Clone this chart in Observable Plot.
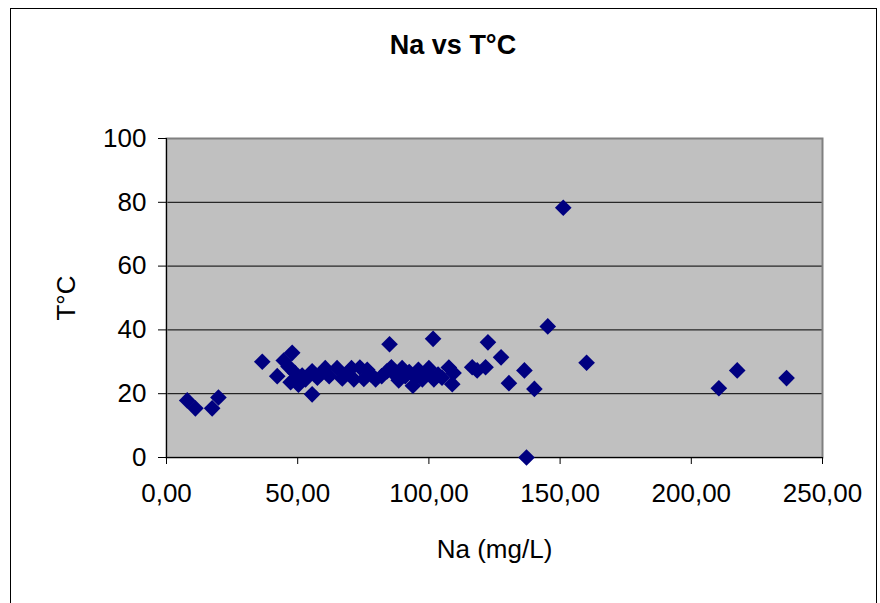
<!DOCTYPE html>
<html>
<head>
<meta charset="utf-8">
<script src="https://cdn.jsdelivr.net/npm/d3@7"></script>
<script src="https://cdn.jsdelivr.net/npm/@observablehq/plot@0.6"></script>
<style>
  html, body { margin: 0; padding: 0; background: #fff; }
  #wrap { position: relative; width: 880px; height: 603px; overflow: hidden; font-family: "Liberation Sans", Arial, sans-serif; }
  #border { position: absolute; left: 10px; top: 8px; width: 867px; height: 620px; border: 1px solid #000; box-sizing: border-box; }
  #title { position: absolute; left: 303px; width: 300px; top: 28px; text-align: center; font-weight: bold; font-size: 27px; color: #000; line-height: 34px; }
  #chart { position: absolute; left: 0; top: 0; }
</style>
</head>
<body>
<div id="wrap">
  <div id="border"></div>
  <div id="chart"></div>
  <div id="title">Na vs T°C</div>
</div>
<script>
const titleText = "Na vs T°C";
const xLabel = "Na (mg/L)";
const yLabel = "T°C";
const xTicks = [0, 50, 100, 150, 200, 250];
const yTicks = [0, 20, 40, 60, 80, 100];
const gridValues = [20, 40, 60, 80];

// Na (mg/L)
const na = [
  7.9, 11.0, 17.4, 19.8,
  36.5, 42.2, 44.7, 46.5, 47.3, 47.9, 49.0, 50.3, 51.7, 53.0, 55.5, 55.5, 57.5, 59.0, 60.5,
  62.0, 65.0, 67.0, 69.0, 70.5, 71.4, 73.7, 75.2, 76.5, 78.0, 79.7, 82.0, 84.0, 85.0, 85.7,
  87.0, 88.5, 89.8, 91.0, 92.5, 93.9, 95.0, 96.0, 97.5, 99.0, 100.0, 101.6, 101.9, 103.5,
  105.0, 107.6, 108.9, 109.4,
  116.5, 118.4, 121.6, 122.5, 127.5, 130.5, 136.4, 137.2, 140.2, 145.3, 151.2, 160.1,
  210.5, 217.5, 236.3
];
// T°C
const temp = [
  17.9, 15.4, 15.4, 18.8,
  30.0, 25.5, 30.4, 28.5, 23.6, 32.8, 26.5, 22.8, 25.7, 24.5, 27.0, 19.8, 25.0, 26.5, 28.0,
  25.5, 28.0, 24.8, 26.5, 28.0, 24.5, 28.2, 24.6, 27.5, 26.0, 24.5, 25.5, 27.0, 35.5, 28.3,
  26.0, 24.2, 28.0, 25.5, 26.8, 22.5, 25.0, 27.5, 24.5, 26.0, 28.0, 37.2, 24.5, 26.0,
  25.0, 28.2, 23.0, 26.5,
  28.3, 27.3, 28.3, 36.1, 31.4, 23.3, 27.3, 0.0, 21.5, 41.1, 78.3, 29.7,
  21.7, 27.3, 24.9
];

const data = na.map((v, i) => ({na: v, t: temp[i]}));
const fmt = n => n.toFixed(2).replace(".", ",");
const diamond = d3.symbolDiamond2 || d3.symbolDiamond;

document.getElementById("title").textContent = titleText;

const chart = Plot.plot({
  width: 880,
  height: 603,
  marginLeft: 166,
  marginRight: 58,
  marginTop: 138,
  marginBottom: 146,
  style: {fontFamily: "Liberation Sans, Arial, sans-serif", fontSize: "26px", color: "#000", background: "transparent", overflow: "visible"},
  x: {domain: [0, 250]},
  y: {domain: [0, 100]},
  marks: [
    Plot.frame({fill: "#c0c0c0", stroke: null}),
    Plot.ruleY(gridValues, {stroke: "#000", strokeWidth: 1}),
    Plot.frame({stroke: "#808080", strokeWidth: 2}),
    Plot.ruleX([0], {stroke: "#000", strokeWidth: 1}),
    Plot.ruleY([0], {stroke: "#000", strokeWidth: 1}),
    Plot.axisX(xTicks, {tickFormat: fmt, tickSize: 7, tickPadding: 19, fontSize: 26, label: xLabel, labelAnchor: "center", labelOffset: 100, labelArrow: "none"}),
    Plot.axisY(yTicks, {tickSize: 8, tickPadding: 12, fontSize: 26, label: yLabel, labelAnchor: "center", labelOffset: 110, labelArrow: "none"}),
    Plot.dot(data, {x: "na", y: "t", symbol: diamond, r: 7.5, fill: "#000080", stroke: null})
  ]
});
document.getElementById("chart").appendChild(chart);
</script>
</body>
</html>
